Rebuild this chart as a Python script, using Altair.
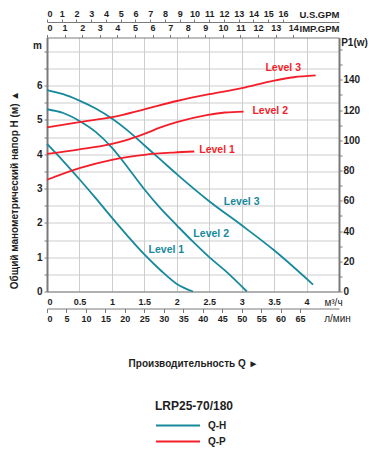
import altair as alt
import pandas as pd

TEAL = "#16899c"
RED = "#f41e2a"
FONT = "Liberation Sans"
INK = "#1e1e1e"
GRID = "#cdcdcd"
FRAME = "#7a7a7a"

# ---- Q-H curves (Q in m3/h, H in m) ----
qh1_q = [0, 0.25, 0.5, 0.75, 1.0, 1.25, 1.5, 1.75, 2.0, 2.25]
qh1_h = [4.3, 3.8, 3.27, 2.72, 2.15, 1.6, 1.08, 0.62, 0.22, 0.0]
qh2_q = [0, 0.25, 0.5, 0.75, 1.0, 1.25, 1.5, 1.75, 2.0, 2.25, 2.5, 2.75, 3.08]
qh2_h = [5.31, 5.2, 4.97, 4.65, 4.19, 3.6, 2.98, 2.42, 1.93, 1.45, 1.0, 0.6, 0.0]
qh3_q = [0, 0.25, 0.5, 0.75, 1.0, 1.25, 1.5, 1.75, 2.0, 2.5, 3.0, 3.5, 4.1]
qh3_h = [5.87, 5.75, 5.56, 5.33, 5.04, 4.68, 4.26, 3.84, 3.42, 2.63, 1.93, 1.2, 0.2]

# ---- Q-P curves (Q in m3/h, P1 in W) ----
qp1_q = [0, 0.5, 1.0, 1.5, 1.95, 2.27]
qp1_w = [73.9, 81.6, 87.1, 90.4, 91.9, 92.6]
qp2_q = [0, 0.5, 1.0, 1.25, 1.5, 1.75, 2.0, 2.46, 2.74, 3.03]
qp2_w = [91.0, 94.0, 97.7, 100.5, 104.2, 108.5, 112.0, 116.6, 118.4, 119.0]
qp3_q = [0, 0.5, 1.0, 1.5, 2.0, 2.5, 3.0, 3.5, 3.8, 4.14]
qp3_w = [108.5, 112.0, 115.3, 120.5, 126.0, 130.5, 134.5, 139.5, 141.7, 142.9]

levels = ["Level 1", "Level 2", "Level 3"]
qh_label_q = [1.84, 2.53, 3.0]
qh_label_h = [1.2, 1.68, 2.62]
qp_label_q = [2.62, 3.44, 3.64]
qp_label_w = [93.7, 119.5, 147.8]

series_names = ["Q-H", "Q-P"]

# axis tick values
m3h_ticks = [0, 0.5, 1, 1.5, 2, 2.5, 3, 3.5, 4]
lmin_ticks = list(range(0, 70, 5))
usgpm_ticks = list(range(0, 17))
impgpm_ticks = list(range(0, 15))
h_ticks = [i * 0.5 for i in range(15)]
p_ticks = list(range(0, 170, 10))

rows = []
for lev, qs, hs in zip(levels, [qh1_q, qh2_q, qh3_q], [qh1_h, qh2_h, qh3_h]):
    for q, h in zip(qs, hs):
        rows.append({"level": lev, "Q": q, "H": h, "kind": "Q-H"})
qh_df = pd.DataFrame(rows)
rows = []
for lev, qs, ws in zip(levels, [qp1_q, qp2_q, qp3_q], [qp1_w, qp2_w, qp3_w]):
    for q, w in zip(qs, ws):
        rows.append({"level": lev, "Q": q, "W": w, "kind": "Q-P"})
qp_df = pd.DataFrame(rows)
qh_lab = pd.DataFrame({"t": levels, "Q": qh_label_q, "H": qh_label_h})
qp_lab = pd.DataFrame({"t": levels, "Q": qp_label_q, "W": qp_label_w})
ax_df = pd.DataFrame({"v": [0]})

color = alt.Color(
    "kind:N",
    scale=alt.Scale(domain=series_names, range=[TEAL, RED]),
    legend=alt.Legend(
        orient="none", legendX=108, legendY=363, direction="vertical",
        title="LRP25-70/180", titleFontSize=12, titleFont=FONT, titleFontWeight="bold",
        titleColor=INK, titlePadding=5,
        symbolType="stroke", symbolSize=1936, symbolStrokeWidth=2,
        clipHeight=16, rowPadding=0,
        labelFont=FONT, labelFontSize=10, labelFontWeight="bold", labelColor=INK,
        labelOffset=7,
    ),
)

x_main = alt.X(
    "Q:Q",
    scale=alt.Scale(domain=[0, 4.5], nice=False, zero=False),
    axis=alt.Axis(
        orient="bottom", values=m3h_ticks, format="~g", grid=True, gridColor=GRID,
        ticks=False, labelPadding=6, labelFontSize=9, domainColor=FRAME,
        title="м³/ч", titleX=286, titleY=11, titleAlign="center",
        titleBaseline="middle", titleAngle=0, titleFontSize=10, titleFontWeight="normal",
    ),
)
y_main = alt.Y(
    "H:Q",
    scale=alt.Scale(domain=[0, 7.4], nice=False, zero=False),
    axis=alt.Axis(
        orient="left", values=h_ticks, format="~g", grid=True, gridColor=GRID,
        labelExpr="(datum.value % 1 == 0 && datum.value <= 6) ? datum.label : ''",
        tickSize=3, labelPadding=2, labelFontSize=10, domainColor=FRAME, domainWidth=2,
        title="Общий манометрический напор H (м) ▲", titleX=-33, titleY=152,
        titleAngle=270, titleAlign="center", titleBaseline="middle", titleFontSize=10,
    ),
)

qh_lines = alt.Chart(qh_df).mark_line(interpolate="monotone", strokeWidth=1.8).encode(
    x=x_main, y=y_main, color=color, detail="level:N"
)
qh_text = alt.Chart(qh_lab).mark_text(
    font=FONT, fontWeight="bold", fontSize=10.5, color=TEAL
).encode(x=x_main, y=y_main, text="t:N")
layer_qh = alt.layer(qh_lines, qh_text)

x_p = alt.X("Q:Q", scale=alt.Scale(domain=[0, 4.5], nice=False, zero=False), axis=None)
y_p = alt.Y(
    "W:Q",
    scale=alt.Scale(domain=[0, 168], nice=False, zero=False),
    axis=alt.Axis(
        orient="right", values=p_ticks, grid=False,
        labelExpr="(datum.value % 20 == 0 && datum.value <= 140) ? datum.label : ''",
        tickSize=3, labelPadding=1, labelFontSize=10, domainColor=FRAME, domainWidth=2,
        title="P1(w)", titleX=15, titleY=4.5, titleAngle=0, titleAlign="center",
        titleBaseline="middle", titleFontSize=10,
    ),
)
qp_lines = alt.Chart(qp_df).mark_line(interpolate="monotone", strokeWidth=1.8).encode(
    x=x_p, y=y_p, color=color, detail="level:N"
)
qp_text = alt.Chart(qp_lab).mark_text(
    font=FONT, fontWeight="bold", fontSize=10.5, color=RED
).encode(x=x_p, y=y_p, text="t:N")
layer_qp = alt.layer(qp_lines, qp_text)

# L/min axis (bottom, second row) + "m" label
layer_lmin = alt.Chart(ax_df).mark_point(opacity=0).encode(
    x=alt.X("v:Q", scale=alt.Scale(domain=[0, 75], nice=False, zero=False),
            axis=alt.Axis(orient="bottom", offset=17, values=lmin_ticks, grid=False,
                          tickSize=4, labelPadding=2, labelFontSize=9, domainColor=FRAME,
                          title="л/мин", titleX=290, titleY=10, titleAlign="center",
                          titleBaseline="middle", titleAngle=0, titleFontSize=10,
                          titleFontWeight="normal")),
    y=alt.Y("v:Q", scale=alt.Scale(domain=[0, 1]),
            axis=alt.Axis(orient="left", labels=False, ticks=False, domain=False, grid=False,
                          title="m", titleX=-10, titleY=7.5, titleAngle=0,
                          titleAlign="center", titleBaseline="middle", titleFontSize=10)),
)

# U.S.GPM axis (top row)
layer_us = alt.Chart(ax_df).mark_point(opacity=0).encode(
    x=alt.X("v:Q", scale=alt.Scale(domain=[0, 19.8], nice=False, zero=False),
            axis=alt.Axis(orient="top", offset=15.5, values=usgpm_ticks, grid=False,
                          tickSize=3, labelPadding=1, labelFontSize=9, domainColor=FRAME,
                          title="U.S.GPM", titleX=292, titleY=-8, titleAlign="right",
                          titleBaseline="middle", titleAngle=0, titleFontSize=9.5)),
)

# IMP.GPM axis (top, on the frame) + bottom title
layer_imp = alt.Chart(ax_df).mark_point(opacity=0).encode(
    x=alt.X("v:Q", scale=alt.Scale(domain=[0, 16.6], nice=False, zero=False),
            axis=alt.Axis(orient="top", offset=0, values=impgpm_ticks, grid=False,
                          tickSize=3, labelPadding=2, labelFontSize=9, domainColor=FRAME,
                          title="IMP.GPM", titleX=292, titleY=-9.5, titleAlign="right",
                          titleBaseline="middle", titleAngle=0, titleFontSize=9.5)),
    y=alt.Y("v:Q", scale=alt.Scale(domain=[0, 1]),
            axis=alt.Axis(orient="left", labels=False, ticks=False, domain=False, grid=False,
                          title="Производительность Q ►", titleX=146, titleY=325.5,
                          titleAngle=0, titleAlign="center", titleBaseline="middle",
                          titleFontSize=10)),
)

chart = alt.layer(
    layer_qh, layer_qp, layer_lmin, layer_us, layer_imp
).resolve_scale(
    x="independent", y="independent"
).properties(
    width=292, height=254,
    autosize=alt.AutoSizeParams(type="none"),
    padding={"left": 39, "top": 29.5, "right": 32, "bottom": 157},
).configure_axis(
    labelFont=FONT, titleFont=FONT, labelFontWeight="bold", titleFontWeight="bold",
    labelColor=INK, titleColor=INK, tickColor=FRAME,
).configure_view(stroke=None)

chart.save("out.html", embed_options={"renderer": "svg", "actions": False})
